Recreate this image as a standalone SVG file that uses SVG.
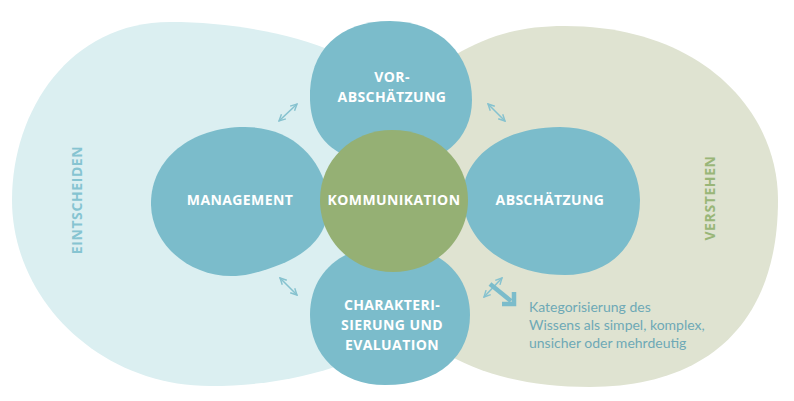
<svg xmlns="http://www.w3.org/2000/svg" width="794" height="401" viewBox="0 0 794 401">
<defs>
<style>
.node{fill:#7bbccb}
.core{fill:#95b074}
.lbl{font-family:"Open Sans","DejaVu Sans",sans-serif;font-weight:700;font-size:14px;fill:#ffffff;text-anchor:middle;letter-spacing:0.4px}
.side{font-family:"Open Sans","DejaVu Sans",sans-serif;font-weight:700;font-size:14px;text-anchor:middle;letter-spacing:0.6px}
.desc{font-family:Lato,"Open Sans",sans-serif;font-size:14px;fill:#6ea9b6}
.arr{stroke:#86c2cf;stroke-width:1.6;fill:none;marker-start:url(#ah);marker-end:url(#ah)}
</style>
<marker id="ah" viewBox="0 0 10 10" refX="9" refY="5" markerWidth="8" markerHeight="8" orient="auto-start-reverse" markerUnits="userSpaceOnUse">
<path d="M1,1 L9,5 L1,9" fill="none" stroke="#86c2cf" stroke-width="1.8"/>
</marker>
</defs>
<rect width="794" height="401" fill="#ffffff"/>
<g id="bg-entscheiden">
<path d="M12,200 C12,110 70,22 170,22 C230,22 290,33 335,52 L400,200 L400,330 C370,360 300,386 210,386 C100,386 12,300 12,200 Z" fill="#dbeff1"/>
<text class="side" fill="#86c4d1" transform="translate(82,200) rotate(-90)">EINTSCHEIDEN</text>
</g>
<g id="bg-verstehen">
<path d="M455,55 C490,35 520,26 565,26 C700,26 778,110 778,200 C778,330 700,387 590,387 C530,387 480,375 440,350 L400,200 Z" fill="#dfe3d1"/>
<text class="side" fill="#99b678" transform="translate(715,198) rotate(-90)">VERSTEHEN</text>
</g>
<g id="vorabschaetzung">
<path class="node" d="M310,100 C308,50 340,21 390,21 C440,21 472,55 472,100 C472,140 440,165 400,165 C350,165 312,150 310,100 Z"/>
<text class="lbl" x="392" y="82">VOR-</text>
<text class="lbl" x="392" y="102">ABSCHÄTZUNG</text>
</g>
<g id="management">
<path class="node" d="M151,205 C150,160 190,127 245,127 C290,127 320,155 328,195 C333,240 300,262 250,274 C200,285 152,250 151,205 Z"/>
<text class="lbl" x="240" y="205">MANAGEMENT</text>
</g>
<g id="abschaetzung">
<path class="node" d="M463,200 C460,160 500,127 560,127 C610,127 640,160 640,200 C640,245 610,275 565,275 C510,275 466,245 463,200 Z"/>
<text class="lbl" x="550" y="205">ABSCHÄTZUNG</text>
</g>
<g id="charakterisierung">
<path class="node" d="M310,315 C310,270 345,245 390,245 C440,245 470,275 470,315 C470,355 440,385 385,385 C340,385 310,355 310,315 Z"/>
<text class="lbl" x="392" y="310">CHARAKTERI-</text>
<text class="lbl" x="392" y="330">SIERUNG UND</text>
<text class="lbl" x="392" y="350">EVALUATION</text>
</g>
<g id="kommunikation">
<path class="core" d="M320,200 C320,160 352,130 392,130 C435,130 468,160 468,200 C468,240 435,272 393,272 C352,272 320,240 320,200 Z"/>
<text class="lbl" x="394" y="205">KOMMUNIKATION</text>
</g>
<g id="connectors">
<line class="arr" x1="279" y1="121" x2="297" y2="104"/>
<line class="arr" x1="488" y1="104" x2="505" y2="121"/>
<line class="arr" x1="280" y1="278" x2="297" y2="295"/>
<line class="arr" x1="484" y1="297" x2="502" y2="278"/>
<line x1="490" y1="284" x2="511" y2="301" stroke="#7bbccb" stroke-width="4.5"/>
<path d="M502,304 L514,304 L514,292" fill="none" stroke="#7bbccb" stroke-width="4.5" stroke-linejoin="miter"/>
</g>
<g id="note">
<text class="desc" x="529" y="312">Kategorisierung des</text>
<text class="desc" x="529" y="330">Wissens als simpel, komplex,</text>
<text class="desc" x="529" y="348">unsicher oder mehrdeutig</text>
</g>
</svg>
